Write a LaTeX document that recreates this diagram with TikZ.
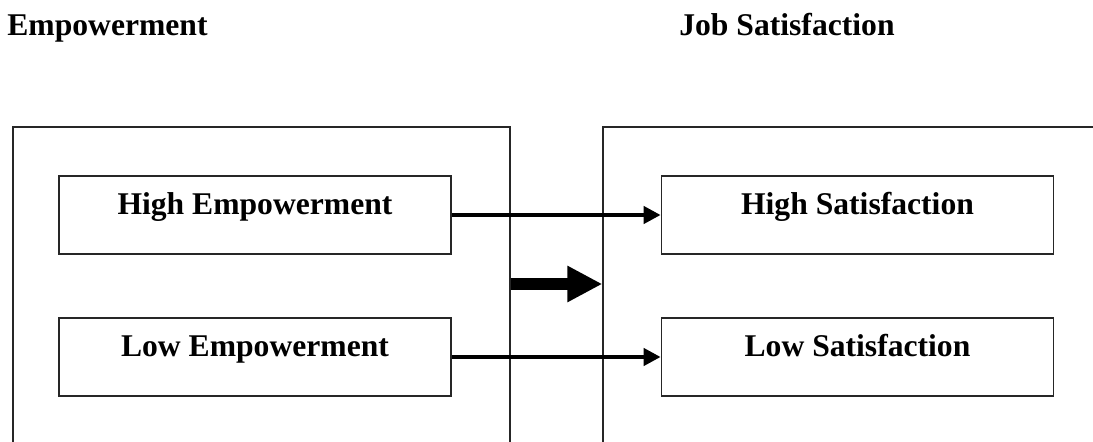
\documentclass[tikz,border=0pt]{standalone}
\usepackage{fontspec}
\setmainfont{Liberation Serif}
\usetikzlibrary{arrows.meta}

\tikzset{
  every node/.style={font=\fontsize{18}{22}\selectfont\bfseries},
  group/.style={draw=black!85, line width=0.8pt, minimum width=#1, minimum height=6.86cm, inner sep=0pt},
  level/.style={draw=black!85, line width=1pt, minimum width=7.84cm, minimum height=1.56cm,
                text height=0.7em, text depth=0.7em, inner sep=0pt},
  heading/.style={anchor=base west, inner sep=0pt}
}

\begin{document}
\begin{tikzpicture}[x=0.02cm, y=-0.02cm, every edge/.style={draw, line width=2.3pt, -{Triangle[length=0.34cm, width=0.34cm]}}]
        \clip (0,0) rectangle (1093,442);

        \node[heading] (temp) at (7,36) {Empowerment};
        \node[heading] (tsat) at (679,36) {Job Satisfaction};

        \node[group=9.94cm] (emp) at (261.5,298.5) {};
        \node[group=10.34cm] (sat) at (861.5,298.5) {};

        \node[level] (he) at (255,215) {High Empowerment};
        \node[level] (le) at (255,357) {Low Empowerment};
        \node[level] (hs) at (857.5,215) {High Satisfaction};
        \node[level] (ls) at (857.5,357) {Low Satisfaction};

        \coordinate (mid) at (556,284);

        \path (he) edge (hs)
              (le) edge (ls);

        \draw[line width=6.8pt, -{Triangle[length=0.7cm, width=0.68cm]}] (emp.east |- mid) -- (sat.west |- mid);
    \end{tikzpicture}
\end{document}
